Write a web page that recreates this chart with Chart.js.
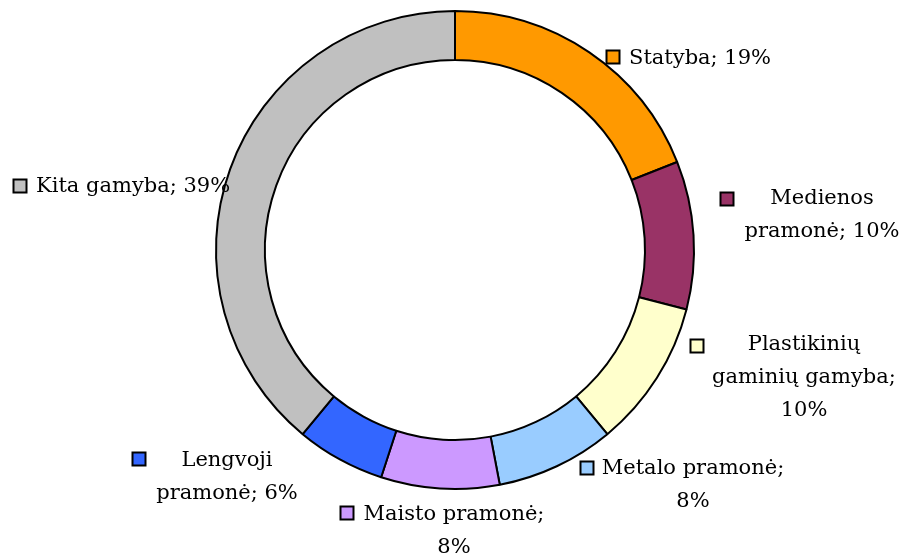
<!DOCTYPE html>
<html>
<head>
<meta charset="utf-8">
<script src="https://cdn.jsdelivr.net/npm/chart.js@4/dist/chart.umd.min.js"></script>
<style>
  html, body { margin: 0; padding: 0; background: #fff; }
  #wrap { width: 904px; height: 555px; position: relative; }
</style>
</head>
<body>
<div id="wrap"><canvas id="pieChart"></canvas></div>
<script>
const categories = ["Statyba", "Medienos pramonė", "Plastikinių gaminių gamyba", "Metalo pramonė", "Maisto pramonė", "Lengvoji pramonė", "Kita gamyba"];
const shares = [19, 10, 10, 8, 8, 6, 39];
const sliceColors = ["#FF9900", "#993366", "#FFFFCC", "#99CCFF", "#CC99FF", "#3366FF", "#C0C0C0"];

// label lines as Excel wrapped them
const labelLines = [
  ["Statyba; 19%"],
  ["Medienos", "pramonė; 10%"],
  ["Plastikinių", "gaminių gamyba;", "10%"],
  ["Metalo pramonė;", "8%"],
  ["Maisto pramonė;", "8%"],
  ["Lengvoji", "pramonė; 6%"],
  ["Kita gamyba; 39%"],
];

// where each label sits, relative to the doughnut centre
// key = legend square centre, x/y = text anchor of the first line
const labelLayout = [
  { key: [158, -193], x: 174, y: -193, align: "left" },
  { key: [272, -51], x: 367, y: -53 },
  { key: [242, 96], x: 349, y: 93 },
  { key: [132, 218], x: 238, y: 217 },
  { key: [-108, 263], x: -1, y: 263 },
  { key: [-316, 209], x: -228, y: 209 },
  { key: [-435, -64], x: -419, y: -65, align: "left" },
];

const labelPlugin = {
  id: "sliceLabels",
  afterDraw(chart) {
    const ctx = chart.ctx;
    const arc = chart.getDatasetMeta(0).data[0];
    const cx = arc.x, cy = arc.y;
    const lineH = 33;
    ctx.save();
    ctx.font = '21px "DejaVu Serif"';
    ctx.textBaseline = "middle";
    labelLayout.forEach((l, i) => {
      // legend key
      ctx.fillStyle = sliceColors[i];
      ctx.fillRect(cx + l.key[0] - 6.5, cy + l.key[1] - 6.5, 13, 13);
      ctx.lineWidth = 2;
      ctx.strokeStyle = "#000";
      ctx.strokeRect(cx + l.key[0] - 6.5, cy + l.key[1] - 6.5, 13, 13);
      ctx.fillStyle = "#000";
      ctx.textAlign = l.align || "center";
      labelLines[i].forEach((t, j) => {
        ctx.fillText(t, cx + l.x, cy + l.y + 2 + j * lineH);
      });
    });
    ctx.restore();
  },
};

const ctx = document.getElementById("pieChart").getContext("2d");
new Chart(ctx, {
  type: "doughnut",
  data: {
    labels: categories,
    datasets: [
      {
        data: shares,
        backgroundColor: sliceColors,
        borderColor: "#000",
        borderWidth: 2,
      },
    ],
  },
  options: {
    responsive: true,
    maintainAspectRatio: false,
    animation: false,
    cutout: "79.5%",
    layout: {
      padding: { top: 10, bottom: 65, left: 215, right: 209 },
    },
    plugins: {
      legend: { display: false },
      tooltip: { enabled: false },
    },
  },
  plugins: [labelPlugin],
});
</script>
</body>
</html>
